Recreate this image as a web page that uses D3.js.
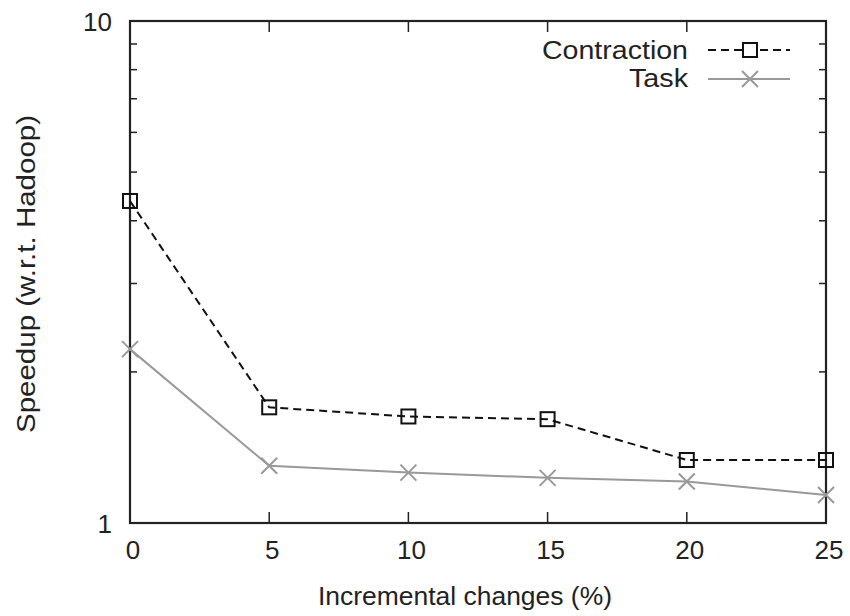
<!DOCTYPE html>
<html>
<head>
<meta charset="utf-8">
<script src="https://cdn.jsdelivr.net/npm/d3@7"></script>
<style>
  body { margin: 0; background: #fff; }
  text { font-family: "Liberation Sans", Arial, sans-serif; fill: #222; }
</style>
</head>
<body>
<svg width="850" height="616"></svg>
<script>
const changes = [0, 5, 10, 15, 20, 25];
const contraction = [4.38, 1.70, 1.63, 1.61, 1.335, 1.335];
const task = [2.22, 1.30, 1.26, 1.23, 1.21, 1.137];
const xTicks = [0, 5, 10, 15, 20, 25];
const yMinor = [2, 3, 4, 5, 6, 7, 8, 9];

const svg = d3.select("svg");
const m = { left: 130, top: 21, right: 826, bottom: 523 };

const x = d3.scaleLinear().domain([0, 25]).range([m.left, m.right]);
const y = d3.scaleLog().domain([1, 10]).range([m.bottom, m.top]);

// tick marks (inside, both sides)
const g = svg.append("g").attr("stroke", "#222").attr("stroke-width", 1.5);
xTicks.slice(1, -1).forEach(v => {
  g.append("line").attr("x1", x(v)).attr("x2", x(v)).attr("y1", m.bottom).attr("y2", m.bottom - 11);
  g.append("line").attr("x1", x(v)).attr("x2", x(v)).attr("y1", m.top).attr("y2", m.top + 11);
});
yMinor.forEach(v => {
  g.append("line").attr("x1", m.left).attr("x2", m.left + 7).attr("y1", y(v)).attr("y2", y(v));
  g.append("line").attr("x1", m.right).attr("x2", m.right - 7).attr("y1", y(v)).attr("y2", y(v));
});

// frame
svg.append("rect")
  .attr("x", m.left).attr("y", m.top)
  .attr("width", m.right - m.left).attr("height", m.bottom - m.top)
  .attr("fill", "none").attr("stroke", "#222").attr("stroke-width", 2.2);

// tick labels
svg.selectAll(".xl").data(xTicks).enter().append("text")
  .attr("x", d => x(d) + 3).attr("y", 559)
  .attr("text-anchor", "middle").attr("font-size", 26)
  .text(d => d);
svg.selectAll(".yl").data([1, 10]).enter().append("text")
  .attr("x", 112).attr("y", d => y(d) + 10)
  .attr("text-anchor", "end").attr("font-size", 26)
  .text(d => d);

// axis titles
svg.append("text").attr("x", 465).attr("y", 605)
  .attr("text-anchor", "middle").attr("font-size", 26.5)
  .attr("textLength", 294).attr("lengthAdjust", "spacingAndGlyphs")
  .text("Incremental changes (%)");
svg.append("text")
  .attr("transform", "translate(35,274) rotate(-90)")
  .attr("text-anchor", "middle").attr("font-size", 26.5)
  .attr("textLength", 318).attr("lengthAdjust", "spacingAndGlyphs")
  .text("Speedup (w.r.t. Hadoop)");

const line = d3.line().x((d, i) => x(changes[i])).y(d => y(d));

// Contraction
svg.append("path").datum(contraction).attr("d", line)
  .attr("fill", "none").attr("stroke", "#111").attr("stroke-width", 2)
  .attr("stroke-dasharray", "8,5");
svg.selectAll(".sq").data(contraction).enter().append("rect")
  .attr("x", (d, i) => x(changes[i]) - 7).attr("y", d => y(d) - 7)
  .attr("width", 14).attr("height", 14)
  .attr("fill", "none").attr("stroke", "#111").attr("stroke-width", 2);

// Task
svg.append("path").datum(task).attr("d", line)
  .attr("fill", "none").attr("stroke", "#999").attr("stroke-width", 2);
const cross = (sel, cx, cy) => {
  sel.append("path")
    .attr("d", `M${cx - 8},${cy - 8}L${cx + 8},${cy + 8}M${cx - 8},${cy + 8}L${cx + 8},${cy - 8}`)
    .attr("stroke", "#999").attr("stroke-width", 2).attr("fill", "none");
};
task.forEach((d, i) => cross(svg, x(changes[i]), y(d)));

// legend
const ly1 = 50, ly2 = 79;
svg.append("text").attr("x", 688).attr("y", 59).attr("text-anchor", "end")
  .attr("font-size", 26.5).attr("textLength", 146).attr("lengthAdjust", "spacingAndGlyphs")
  .text("Contraction");
svg.append("line").attr("x1", 708).attr("x2", 790).attr("y1", ly1).attr("y2", ly1)
  .attr("stroke", "#111").attr("stroke-width", 2).attr("stroke-dasharray", "8,5");
svg.append("rect").attr("x", 743).attr("y", ly1 - 7).attr("width", 14).attr("height", 14)
  .attr("fill", "#fff").attr("stroke", "#111").attr("stroke-width", 2);
svg.append("text").attr("x", 688).attr("y", 87).attr("text-anchor", "end")
  .attr("font-size", 26.5).attr("textLength", 59).attr("lengthAdjust", "spacingAndGlyphs")
  .text("Task");
svg.append("line").attr("x1", 708).attr("x2", 790).attr("y1", ly2).attr("y2", ly2)
  .attr("stroke", "#999").attr("stroke-width", 2);
cross(svg, 750, ly2);
</script>
</body>
</html>
